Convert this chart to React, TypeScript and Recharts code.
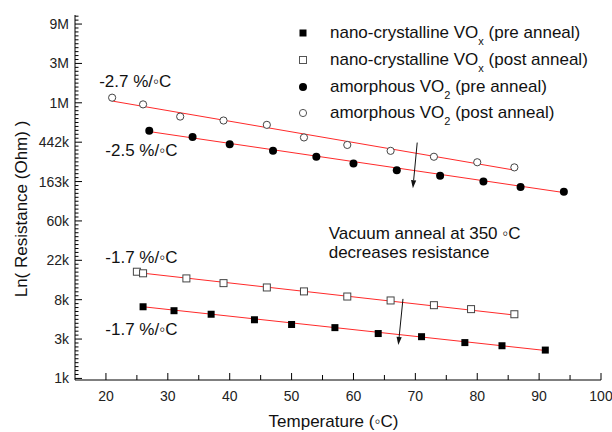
import React from 'react';
import {
  ComposedChart, XAxis, YAxis, Scatter, Line, ReferenceLine, ReferenceDot, Legend,
} from 'recharts';

// ---- data (ln of resistance in Ohm vs temperature in °C) ----
const TEMP_NANO_PRE = [26, 31, 37, 44, 50, 57, 64, 71, 78, 84, 91];
const LN_NANO_PRE = [8.82, 8.72, 8.63, 8.49, 8.37, 8.29, 8.14, 8.06, 7.91, 7.83, 7.72];
const TEMP_NANO_POST = [25, 26, 33, 39, 46, 52, 59, 66, 73, 79, 86];
const LN_NANO_POST = [9.71, 9.67, 9.54, 9.42, 9.31, 9.21, 9.08, 8.98, 8.86, 8.76, 8.63];
const TEMP_AMORPH_PRE = [27, 34, 40, 47, 54, 60, 67, 74, 81, 87, 94];
const LN_AMORPH_PRE = [13.29, 13.13, 12.95, 12.78, 12.63, 12.46, 12.29, 12.15, 12.0, 11.86, 11.74];
const TEMP_AMORPH_POST = [21, 26, 32, 39, 46, 52, 59, 66, 73, 80, 86];
const LN_AMORPH_POST = [14.13, 13.96, 13.65, 13.55, 13.44, 13.12, 12.93, 12.78, 12.63, 12.49, 12.36];

// linear fit end points [T, ln]
const FIT_NANO_PRE = [[26, 8.82], [91, 7.71]];
const FIT_NANO_POST = [[25, 9.69], [86, 8.61]];
const FIT_AMORPH_PRE = [[27, 13.27], [94, 11.72]];
const FIT_AMORPH_POST = [[21, 14.045], [86, 12.29]];

// ticks
const X_MAJOR_TICKS = [20, 30, 40, 50, 60, 70, 80, 90, 100];
const X_ALL_TICKS = [20, 25, 30, 35, 40, 45, 50, 55, 60, 65, 70, 75, 80, 85, 90, 95, 100];
const Y_MAJOR_TICKS = [7, 8, 9, 10, 11, 12, 13, 14, 15, 16];
const Y_TICK_LABELS = ['1k', '3k', '8k', '22k', '60k', '163k', '442k', '1M', '3M', '9M'];
const Y_ALL_TICKS = Array.from({ length: 93 }, (_, i) => (70 + i) / 10);

// annotations
const SLOPE_LABELS = [
  { T: 18.9, ln: 14.53, text: '-2.7 %/\u25E6C' },
  { T: 19.9, ln: 12.8, text: '-2.5 %/\u25E6C' },
  { T: 19.9, ln: 10.08, text: '-1.7 %/\u25E6C' },
  { T: 19.9, ln: 8.23, text: '-1.7 %/\u25E6C' },
];
const NOTE_LINES = [
  { T: 56.0, ln: 10.69, text: 'Vacuum anneal at 350 \u25E6C' },
  { T: 56.0, ln: 10.19, text: 'decreases resistance' },
];
const ARROWS = [
  [[70.3, 12.99], [69.6, 11.83]],
  [[68.0, 9.02], [67.25, 7.85]],
];

const LEGEND_ITEMS = [
  { kind: 'fsq', main: 'nano-crystalline VO', sub: 'x', tail: ' (pre anneal)' },
  { kind: 'osq', main: 'nano-crystalline VO', sub: 'x', tail: ' (post anneal)' },
  { kind: 'fci', main: 'amorphous VO', sub: '2', tail: ' (pre anneal)' },
  { kind: 'oci', main: 'amorphous VO', sub: '2', tail: ' (post anneal)' },
];

const X_TITLE = 'Temperature (\u25E6C)';
const Y_TITLE = 'Ln( Resistance (Ohm) )';

const X_DOMAIN = [15, 100];
const Y_DOMAIN = [6.96, 16.23];

const FONT = '"Liberation Sans", Arial, Helvetica, sans-serif';
const FIT_COLOR = '#ff2a2a';

const toPts = (xs: number[], ys: number[]) => xs.map((T, i) => ({ T, ln: ys[i] }));
const toFit = (f: number[][]) => f.map(([T, ln]) => ({ T, ln }));

const isMajor = (v: number) => Math.abs(v - Math.round(v)) < 1e-6;

const FilledSquare = (p: any) => <rect x={p.cx - 3.5} y={p.cy - 3.5} width={7} height={7} fill="#000" />;
const OpenSquare = (p: any) => <rect x={p.cx - 3.5} y={p.cy - 3.5} width={7} height={7} fill="#fff" stroke="#444" strokeWidth={1} />;
const FilledCircle = (p: any) => <circle cx={p.cx} cy={p.cy} r={4} fill="#000" />;
const OpenCircle = (p: any) => <circle cx={p.cx} cy={p.cy} r={3.6} fill="#fff" stroke="#444" strokeWidth={1} />;

const LeftTick = (p: any) => {
  const v = p.payload.value;
  const major = isMajor(v);
  const idx = Y_MAJOR_TICKS.indexOf(Math.round(v));
  return (
    <g>
      <line x1={p.x} x2={p.x + (major ? 7 : 3.5)} y1={p.y} y2={p.y} stroke="#000" strokeWidth={1} />
      {major && idx >= 0 ? (
        <text x={p.x - 6} y={p.y} textAnchor="end" dominantBaseline="central" fontSize={14} fontFamily={FONT} fill="#222">
          {Y_TICK_LABELS[idx]}
        </text>
      ) : null}
    </g>
  );
};
const RightTick = (p: any) => {
  const major = isMajor(p.payload.value);
  return <line x1={p.x} x2={p.x - (major ? 7 : 3.5)} y1={p.y} y2={p.y} stroke="#000" strokeWidth={1} />;
};
const BottomTick = (p: any) => {
  const v = p.payload.value;
  const major = X_MAJOR_TICKS.includes(v);
  return (
    <g>
      <line x1={p.x} x2={p.x} y1={p.y} y2={p.y - (major ? 7 : 5)} stroke="#000" strokeWidth={1} />
      {major ? (
        <text x={p.x} y={p.y + 16} textAnchor="middle" dominantBaseline="central" fontSize={14} fontFamily={FONT} fill="#222">
          {v}
        </text>
      ) : null}
    </g>
  );
};
const TopTick = (p: any) => {
  const major = X_MAJOR_TICKS.includes(p.payload.value);
  return <line x1={p.x} x2={p.x} y1={p.y} y2={p.y + (major ? 7 : 5)} stroke="#000" strokeWidth={1} />;
};

const ArrowShape = (p: any) => {
  const { x1, y1, x2, y2 } = p;
  if ([x1, y1, x2, y2].some((v) => typeof v !== 'number' || isNaN(v))) return null;
  const dx = x2 - x1, dy = y2 - y1;
  const len = Math.sqrt(dx * dx + dy * dy);
  const ux = dx / len, uy = dy / len;
  const hl = 8, hw = 2.6;
  const bx = x2 - ux * hl, by = y2 - uy * hl;
  const pts = `${x2},${y2} ${bx - uy * hw},${by + ux * hw} ${bx + uy * hw},${by - ux * hw}`;
  return (
    <g>
      <line x1={x1} y1={y1} x2={bx} y2={by} stroke="#111" strokeWidth={1} />
      <polygon points={pts} fill="#111" />
    </g>
  );
};

const legendMarker = (kind: string) => {
  if (kind === 'fsq') return <rect x={4.5} y={4.5} width={7} height={7} fill="#000" />;
  if (kind === 'osq') return <rect x={4.5} y={4.5} width={7} height={7} fill="#fff" stroke="#555" />;
  if (kind === 'fci') return <circle cx={8} cy={8} r={4} fill="#000" />;
  return <circle cx={8} cy={8} r={3.6} fill="#fff" stroke="#555" />;
};

const LegendContent = () => (
  <div style={{ fontFamily: FONT, fontSize: 17, color: '#111' }}>
    {LEGEND_ITEMS.map((it, i) => (
      <div key={i} style={{ display: 'flex', alignItems: 'center', height: 26.7, whiteSpace: 'nowrap' }}>
        <svg width={16} height={16} style={{ display: 'block' }}>{legendMarker(it.kind)}</svg>
        <span style={{ marginLeft: 19 }}>
          {it.main}
          <span style={{ fontSize: 11, position: 'relative', top: 7 }}>{it.sub}</span>
          {it.tail}
        </span>
      </div>
    ))}
  </div>
);

const textShape = (text: string) => (p: any) => (
  <text x={p.cx} y={p.cy} dominantBaseline="central" fontSize={17} fontFamily={FONT} fill="#111">{text}</text>
);

export default function App() {
  return (
    <div style={{ position: 'absolute', left: 0, top: 0, width: 612, height: 432, background: '#fff' }}>
      <ComposedChart width={612} height={432} margin={{ top: 15, right: 11, bottom: 0, left: 0 }}>
        <XAxis
          xAxisId="b" type="number" dataKey="T" domain={X_DOMAIN} allowDataOverflow
          ticks={X_ALL_TICKS} interval={0} tickSize={0} tickMargin={0} height={52}
          axisLine={{ stroke: '#000' }} tickLine={false} tick={<BottomTick />}
          label={(props: any) => {
            const vb = props.viewBox || {};
            return (
              <text x={75 + 258.5} y={(vb.y ?? 380) + 41} textAnchor="middle" dominantBaseline="central" fontSize={17} fontFamily={FONT} fill="#111">
                {X_TITLE}
              </text>
            );
          }}
        />
        <XAxis
          xAxisId="t" orientation="top" type="number" dataKey="T" domain={X_DOMAIN} allowDataOverflow
          ticks={X_ALL_TICKS} interval={0} tickSize={0} tickMargin={0} height={0}
          axisLine={{ stroke: '#000' }} tickLine={false} tick={<TopTick />}
        />
        <YAxis
          yAxisId="l" type="number" dataKey="ln" domain={Y_DOMAIN} allowDataOverflow
          ticks={Y_ALL_TICKS} interval={0} tickSize={0} tickMargin={0} width={75}
          axisLine={{ stroke: '#000' }} tickLine={false} tick={<LeftTick />}
          label={(props: any) => {
            const vb = props.viewBox || {};
            const cx = 21, cy = (vb.y ?? 15) + 194;
            return (
              <text x={cx} y={cy} transform={`rotate(-90, ${cx}, ${cy})`} textAnchor="middle" dominantBaseline="central" fontSize={17} fontFamily={FONT} fill="#111">
                {Y_TITLE}
              </text>
            );
          }}
        />
        <YAxis
          yAxisId="r" orientation="right" type="number" dataKey="ln" domain={Y_DOMAIN} allowDataOverflow
          ticks={Y_ALL_TICKS} interval={0} tickSize={0} tickMargin={0} width={0}
          axisLine={{ stroke: '#000' }} tickLine={false} tick={<RightTick />}
        />

        <Line xAxisId="b" yAxisId="l" data={toFit(FIT_NANO_PRE)} dataKey="ln" type="linear" stroke={FIT_COLOR} strokeWidth={1} dot={false} activeDot={false} isAnimationActive={false} legendType="none" />
        <Line xAxisId="b" yAxisId="l" data={toFit(FIT_NANO_POST)} dataKey="ln" type="linear" stroke={FIT_COLOR} strokeWidth={1} dot={false} activeDot={false} isAnimationActive={false} legendType="none" />
        <Line xAxisId="b" yAxisId="l" data={toFit(FIT_AMORPH_PRE)} dataKey="ln" type="linear" stroke={FIT_COLOR} strokeWidth={1} dot={false} activeDot={false} isAnimationActive={false} legendType="none" />
        <Line xAxisId="b" yAxisId="l" data={toFit(FIT_AMORPH_POST)} dataKey="ln" type="linear" stroke={FIT_COLOR} strokeWidth={1} dot={false} activeDot={false} isAnimationActive={false} legendType="none" />

        <Scatter xAxisId="b" yAxisId="l" name="nano pre" data={toPts(TEMP_NANO_PRE, LN_NANO_PRE)} dataKey="ln" shape={FilledSquare} isAnimationActive={false} />
        <Scatter xAxisId="b" yAxisId="l" name="nano post" data={toPts(TEMP_NANO_POST, LN_NANO_POST)} dataKey="ln" shape={OpenSquare} isAnimationActive={false} />
        <Scatter xAxisId="b" yAxisId="l" name="amorph pre" data={toPts(TEMP_AMORPH_PRE, LN_AMORPH_PRE)} dataKey="ln" shape={FilledCircle} isAnimationActive={false} />
        <Scatter xAxisId="b" yAxisId="l" name="amorph post" data={toPts(TEMP_AMORPH_POST, LN_AMORPH_POST)} dataKey="ln" shape={OpenCircle} isAnimationActive={false} />

        {ARROWS.map((a, i) => (
          <ReferenceLine key={`arr${i}`} xAxisId="b" yAxisId="l" segment={[{ x: a[0][0], y: a[0][1] }, { x: a[1][0], y: a[1][1] }]} shape={ArrowShape} ifOverflow="visible" />
        ))}
        {SLOPE_LABELS.concat(NOTE_LINES).map((s, i) => (
          <ReferenceDot key={`lab${i}`} xAxisId="b" yAxisId="l" x={s.T} y={s.ln} r={0} shape={textShape(s.text)} ifOverflow="visible" />
        ))}

        <Legend
          layout="vertical" align="center" verticalAlign="middle"
          content={<LegendContent />}
          wrapperStyle={{ left: 295, top: 20, width: 310, height: 110 }}
        />
      </ComposedChart>
    </div>
  );
}
